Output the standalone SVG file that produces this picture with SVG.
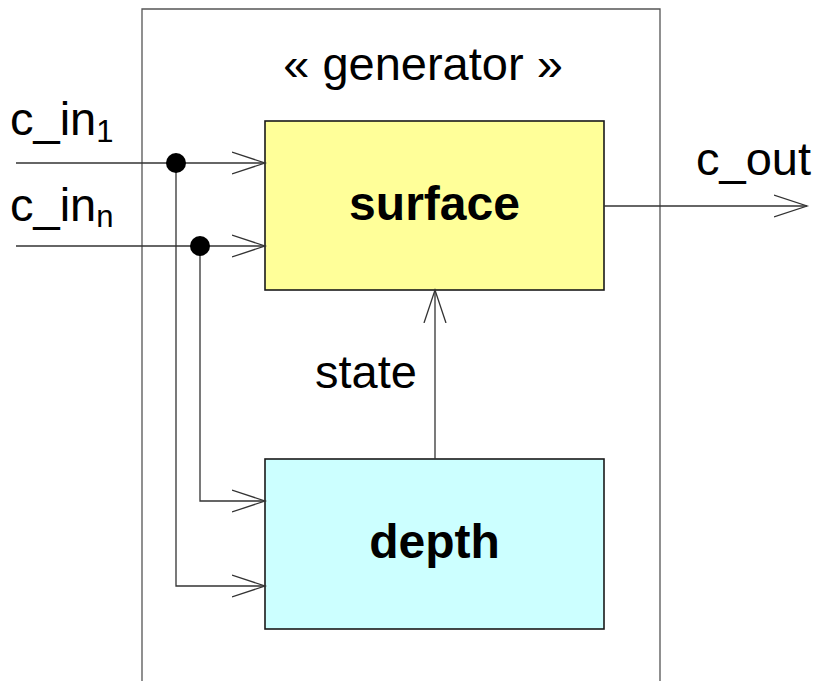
<svg xmlns="http://www.w3.org/2000/svg" width="819" height="681" viewBox="0 0 819 681">
<defs>
<style>
text{font-family:"Liberation Sans",Arial,sans-serif;fill:#000}
.lbl{font-size:47px}
.b{font-size:48px;font-weight:bold}
.sub{font-size:31px}
.c{fill:none;stroke:#333;stroke-width:1.3}
.box{stroke:#1a1a1a;stroke-width:1.6}
</style>
<marker id="ah" markerUnits="userSpaceOnUse" markerWidth="36" markerHeight="26" refX="33" refY="12" orient="auto" viewBox="0 0 36 26">
<path d="M0,1 L33,12 L0,23" fill="none" stroke="#333" stroke-width="1.3"/>
</marker>
</defs>
<g id="generator">
<path d="M142,690 V9 H660 V690" fill="none" stroke="#555" stroke-width="1.3"/>
<text class="lbl" x="423" y="80" text-anchor="middle">« generator »</text>
</g>
<g id="surface">
<rect class="box" x="265" y="121" width="339" height="169" fill="#FFFF99"/>
<text class="b" x="434.5" y="220" text-anchor="middle">surface</text>
</g>
<g id="depth">
<rect class="box" x="265" y="459" width="339" height="170" fill="#CCFFFF"/>
<text class="b" x="434.5" y="558" text-anchor="middle">depth</text>
</g>
<g id="connectors">
<path class="c" d="M16,163 H265" marker-end="url(#ah)"/>
<path class="c" d="M16,246 H265" marker-end="url(#ah)"/>
<path class="c" d="M176,163 V586 H265" marker-end="url(#ah)"/>
<path class="c" d="M200,246 V501 H265" marker-end="url(#ah)"/>
<path class="c" d="M604,206 H807" marker-end="url(#ah)"/>
<path class="c" d="M435,459 V290" marker-end="url(#ah)"/>
<circle cx="176" cy="163" r="10" fill="#000"/>
<circle cx="200" cy="246" r="10" fill="#000"/>
</g>
<g id="labels">
<text class="lbl" x="10" y="135">c_in<tspan class="sub" dy="7">1</tspan></text>
<text class="lbl" x="10" y="221">c_in<tspan class="sub" dy="6">n</tspan></text>
<text class="lbl" x="696" y="175">c_out</text>
<text class="lbl" x="315" y="388">state</text>
</g>
</svg>
